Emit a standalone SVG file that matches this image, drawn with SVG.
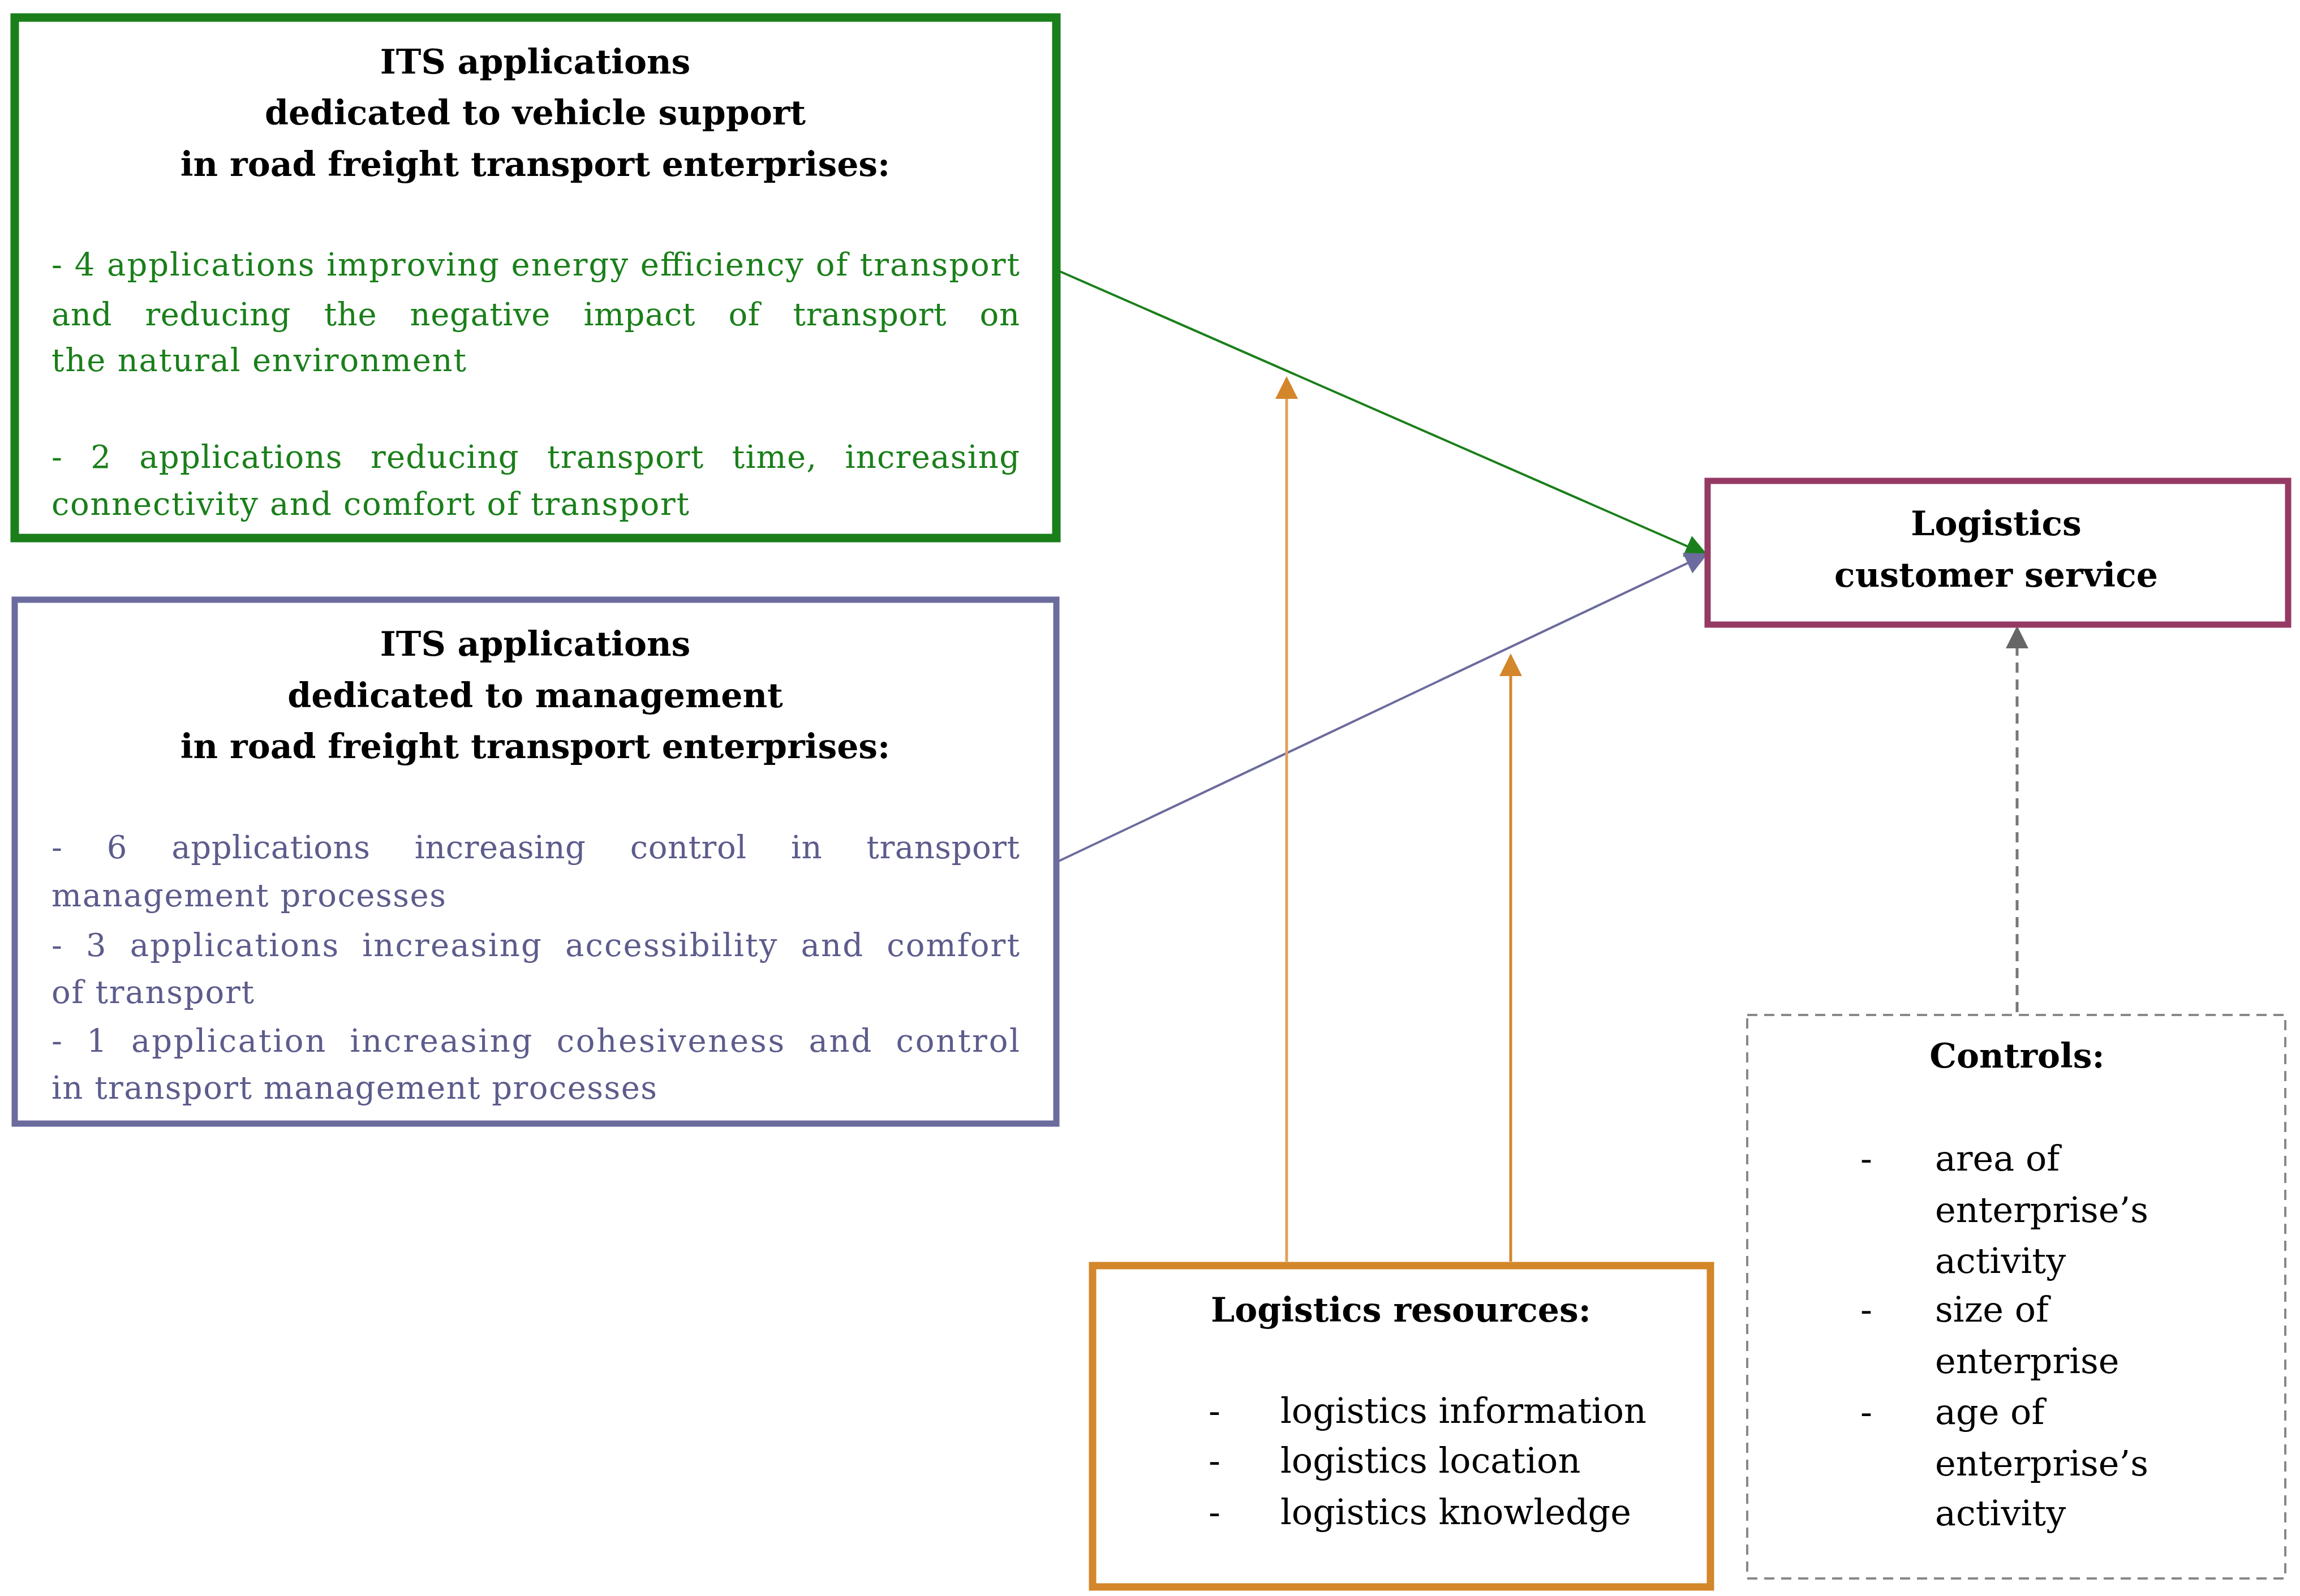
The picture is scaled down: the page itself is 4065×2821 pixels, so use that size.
<svg xmlns="http://www.w3.org/2000/svg" width="4065" height="2821" viewBox="0 0 4065 2821">
<style>
text{font-family:"DejaVu Serif","Liberation Serif",serif}
.t{font-weight:bold;font-size:60px;fill:#000;text-anchor:middle}
.g{font-size:56px;fill:#1a7f1a}
.p{font-size:56px;fill:#5c5c8c}
.k{font-size:62px;fill:#000}
</style>
<defs>
<marker id="ap" viewBox="0 0 10 10" refX="9" refY="5" markerWidth="40" markerHeight="40" orient="auto" markerUnits="userSpaceOnUse"><path d="M0,0L10,5L0,10z" fill="#6b6b9e"/></marker>
<marker id="ag2" viewBox="0 0 10 10" refX="9" refY="5" markerWidth="40" markerHeight="40" orient="auto" markerUnits="userSpaceOnUse"><path d="M0,0L10,5L0,10z" fill="#1a7f1a"/></marker>
<marker id="ao" viewBox="0 0 10 10" refX="9" refY="5" markerWidth="40" markerHeight="40" orient="auto" markerUnits="userSpaceOnUse"><path d="M0,0L10,5L0,10z" fill="#d4862a"/></marker>
<marker id="ak" viewBox="0 0 10 10" refX="9" refY="5" markerWidth="40" markerHeight="40" orient="auto" markerUnits="userSpaceOnUse"><path d="M0,0L10,5L0,10z" fill="#666"/></marker>
</defs>
<rect width="4065" height="2821" fill="#fff"/>
<g id="connectors" fill="none">
<line x1="1867" y1="477" x2="3015" y2="980" stroke="#1a7f1a" stroke-width="4" marker-end="url(#ag2)"/>
<line x1="1867" y1="1524" x2="3015" y2="980" stroke="#6b6b9e" stroke-width="4" marker-end="url(#ap)"/>
<line x1="2274" y1="2230" x2="2274" y2="669" stroke="#e0a060" stroke-width="5" marker-end="url(#ao)"/>
<line x1="2670" y1="2230" x2="2670" y2="1159" stroke="#d4862a" stroke-width="5" marker-end="url(#ao)"/>
<line x1="3565" y1="1789" x2="3565" y2="1110" stroke="#777" stroke-width="5" stroke-dasharray="18,12" marker-end="url(#ak)"/>
</g>
<g id="vehicle">
<rect x="26" y="31" width="1841" height="920" fill="#fff" stroke="#1a7f1a" stroke-width="15"/>
<text class="t" x="946" y="130">ITS applications</text>
<text class="t" x="946" y="220">dedicated to vehicle support</text>
<text class="t" x="946" y="311">in road freight transport enterprises:</text>
<text class="g" x="91" y="487" textLength="1711" lengthAdjust="spacing">- 4 applications improving energy efficiency of transport</text>
<text class="g" x="91" y="575" textLength="1711" lengthAdjust="spacing" word-spacing="40">and reducing the negative impact of transport on</text>
<text class="g" x="91" y="656" textLength="733" lengthAdjust="spacing">the natural environment</text>
<text class="g" x="91" y="827" textLength="1711" lengthAdjust="spacing" word-spacing="30">- 2 applications reducing transport time, increasing</text>
<text class="g" x="91" y="910" textLength="1127" lengthAdjust="spacing">connectivity and comfort of transport</text>
</g>
<g id="management">
<rect x="26" y="1060" width="1841" height="926" fill="#fff" stroke="#6b6b9e" stroke-width="11"/>
<text class="t" x="946" y="1159">ITS applications</text>
<text class="t" x="946" y="1250">dedicated to management</text>
<text class="t" x="946" y="1340">in road freight transport enterprises:</text>
<text class="p" x="91" y="1517" textLength="1711" lengthAdjust="spacing" word-spacing="60">- 6 applications increasing control in transport</text>
<text class="p" x="91" y="1602" textLength="697" lengthAdjust="spacing">management processes</text>
<text class="p" x="91" y="1690" textLength="1711" lengthAdjust="spacing" word-spacing="20">- 3 applications increasing accessibility and comfort</text>
<text class="p" x="91" y="1773" textLength="358" lengthAdjust="spacing">of transport</text>
<text class="p" x="91" y="1859" textLength="1711" lengthAdjust="spacing" word-spacing="20">- 1 application increasing cohesiveness and control</text>
<text class="p" x="91" y="1942" textLength="1070" lengthAdjust="spacing">in transport management processes</text>
</g>
<g id="service">
<rect x="3018" y="850" width="1026" height="254" fill="#fff" stroke="#943a64" stroke-width="11"/>
<text class="t" x="3528" y="946">Logistics</text>
<text class="t" x="3528" y="1037">customer service</text>
</g>
<g id="resources">
<rect x="1931" y="2237" width="1092" height="568" fill="#fff" stroke="#d4862a" stroke-width="13"/>
<text class="t" x="2476" y="2336">Logistics resources:</text>
<text class="k" x="2136" y="2515">-</text><text class="k" x="2263" y="2515">logistics information</text>
<text class="k" x="2136" y="2603">-</text><text class="k" x="2263" y="2603">logistics location</text>
<text class="k" x="2136" y="2694">-</text><text class="k" x="2263" y="2694">logistics knowledge</text>
</g>
<g id="controls">
<rect x="3088" y="1794" width="951" height="996" fill="#fff" stroke="#888" stroke-width="4" stroke-dasharray="18,12"/>
<text class="t" x="3565" y="1887">Controls:</text>
<text class="k" x="3288" y="2069">-</text><text class="k" x="3420" y="2069">area of</text>
<text class="k" x="3420" y="2160">enterprise’s</text>
<text class="k" x="3420" y="2250">activity</text>
<text class="k" x="3288" y="2336">-</text><text class="k" x="3420" y="2336">size of</text>
<text class="k" x="3420" y="2427">enterprise</text>
<text class="k" x="3288" y="2517">-</text><text class="k" x="3420" y="2517">age of</text>
<text class="k" x="3420" y="2608">enterprise’s</text>
<text class="k" x="3420" y="2696">activity</text>
</g>
</svg>
